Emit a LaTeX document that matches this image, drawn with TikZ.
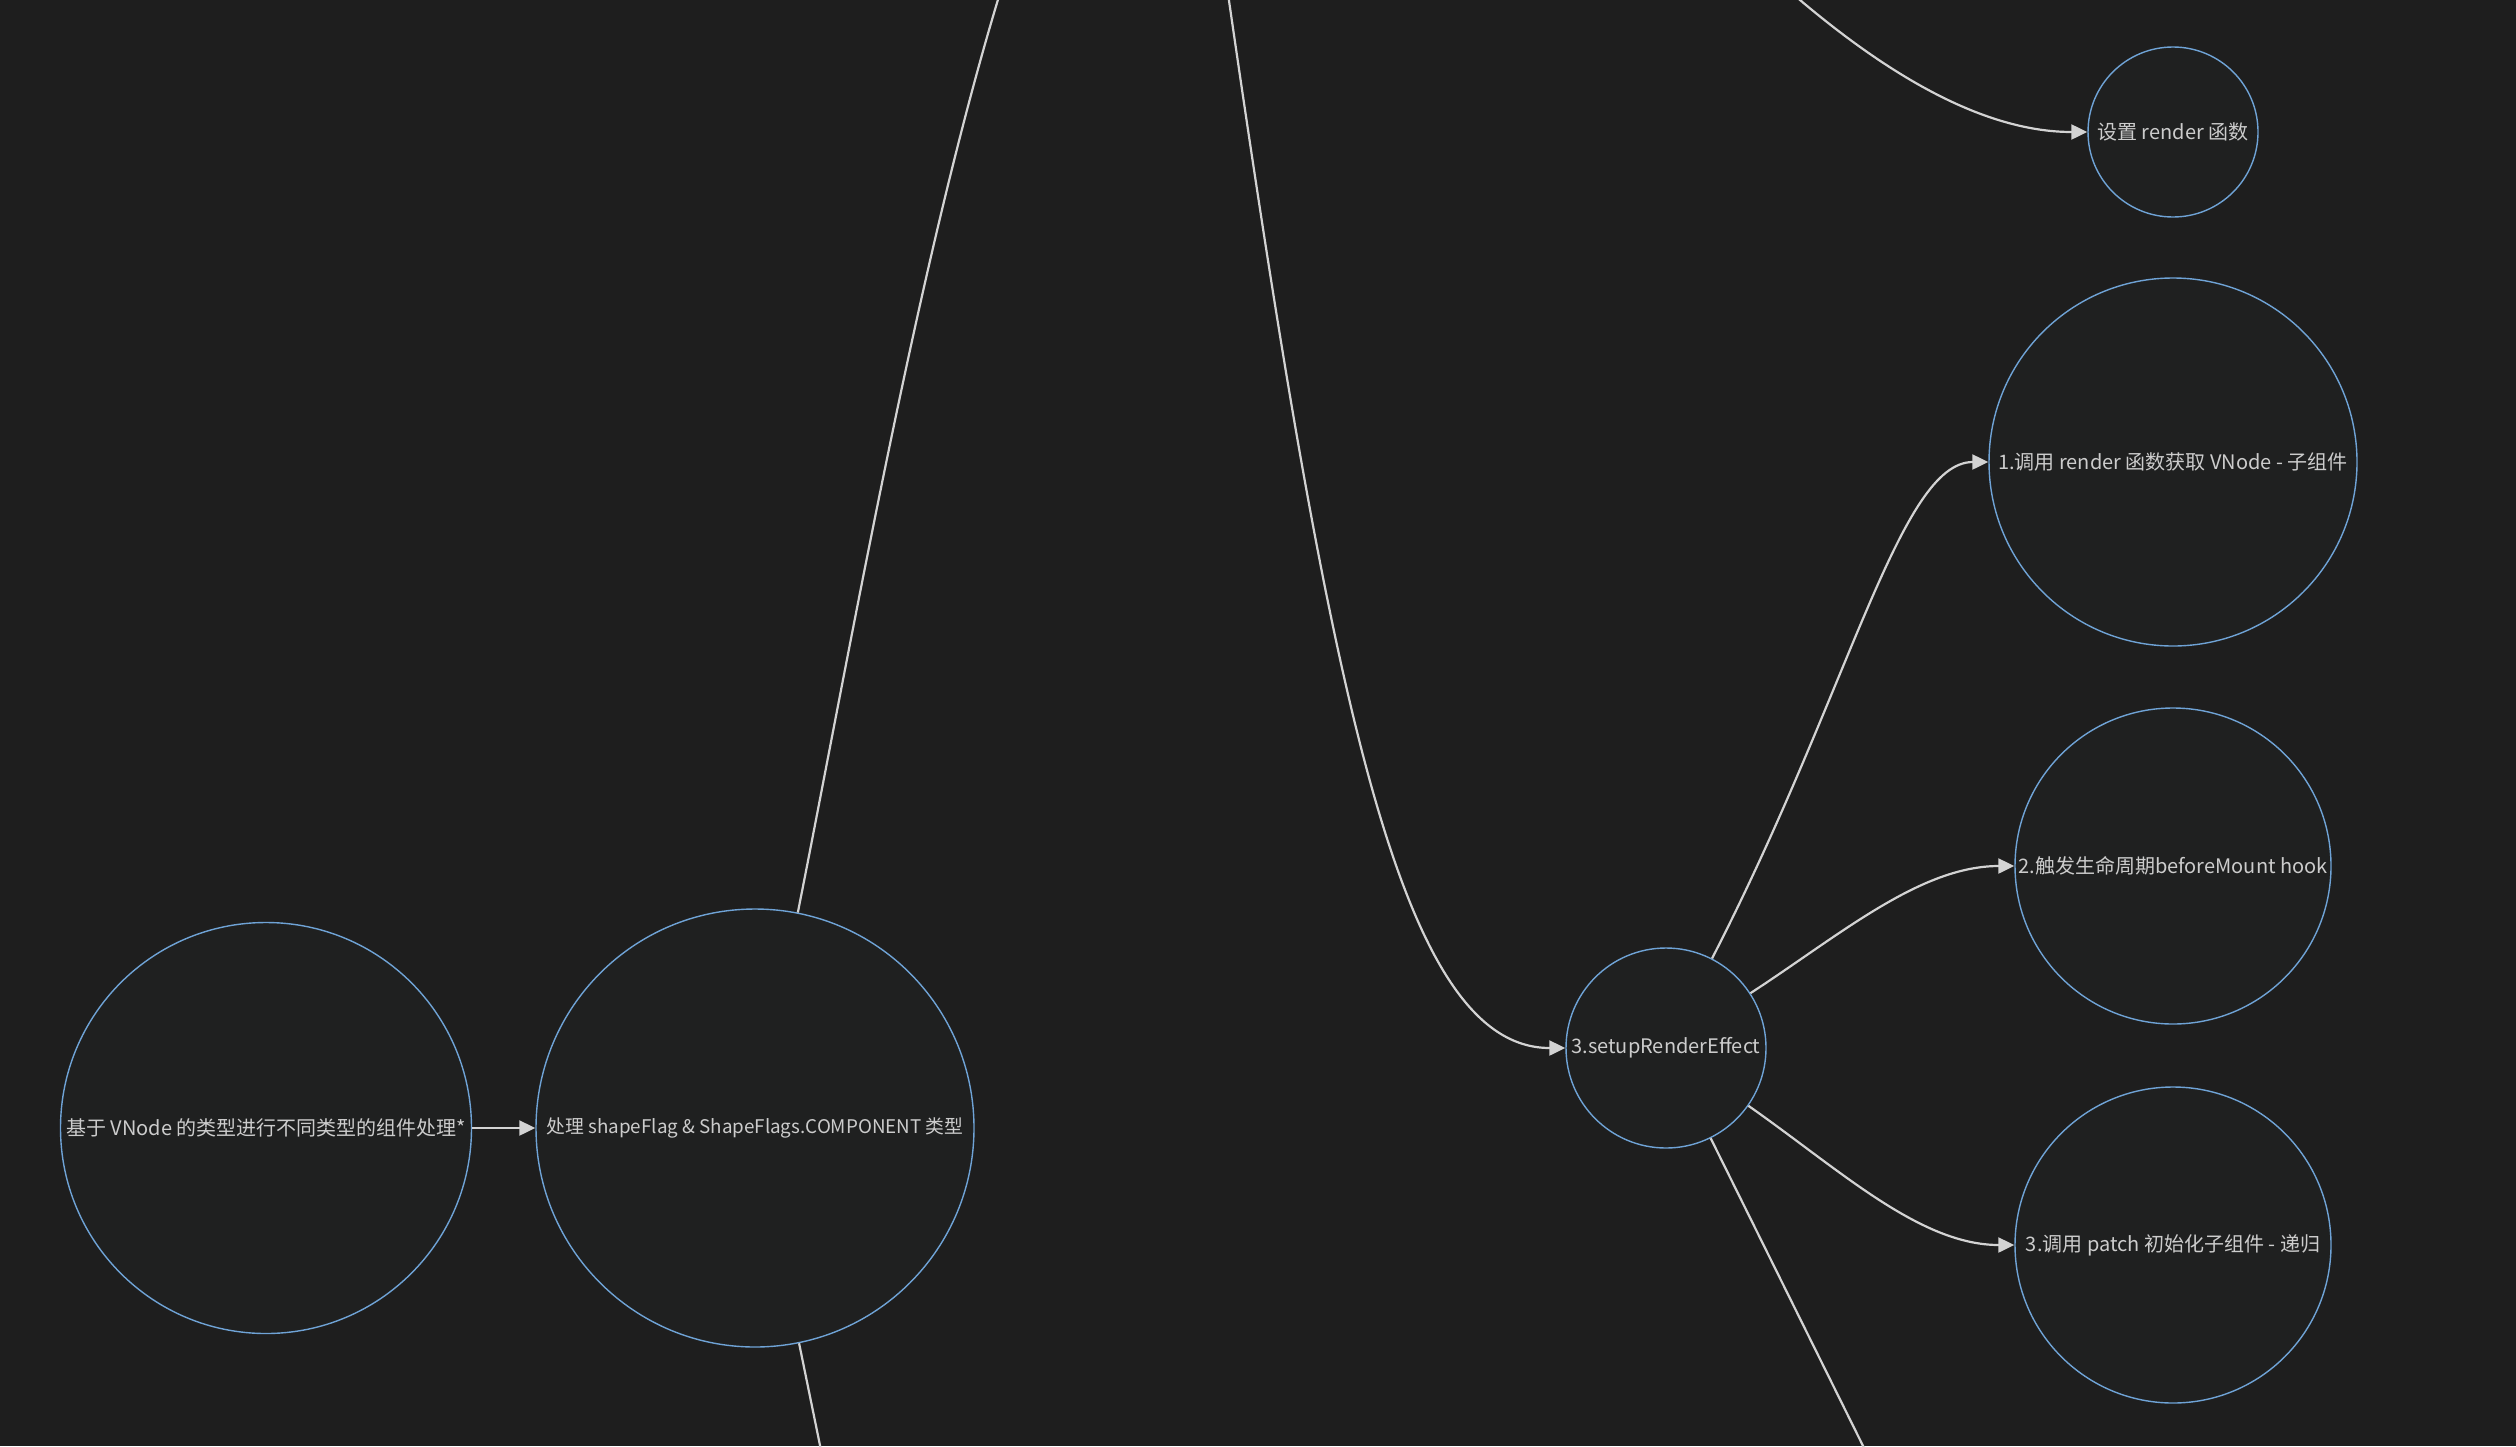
\documentclass[tikz,border=0pt]{standalone}
\usepackage{fontspec}
\setmainfont{Noto Sans CJK SC}
\usetikzlibrary{arrows.meta}
\definecolor{bgcol}{HTML}{1E1E1E}
\definecolor{nodefill}{HTML}{1F2020}
\definecolor{nodeline}{HTML}{6FA3D6}
\definecolor{linkcol}{HTML}{D3D3D3}
\definecolor{txtcol}{HTML}{CCCCCC}

\begin{document}
\begin{tikzpicture}[
x=0.5pt,
y=-0.5pt,
every node/.style={
circle,
draw=nodeline,
line width=0.7pt,
fill=nodefill,
text=txtcol,
inner sep=0pt,
font=\fontsize{10}{12}\selectfont
},
link/.style={
draw=linkcol,
line width=1.1pt
},
arr/.style={
link,
-{Triangle[length=8pt,width=7.5pt]}
}
]

\fill[bgcol] (0,0) rectangle (2516,1446);
\useasboundingbox (0,0) rectangle (2516,1446);
\clip (0,0) rectangle (2516,1446);

\node (V) at (266,1128) [minimum size=205.5pt]
{基于 VNode 的类型进行不同类型的组件处理*};

\node (S) at (755,1128) [minimum size=219pt, font=\fontsize{9.4}{12}\selectfont]
{处理 shapeFlag \& ShapeFlags.COMPONENT 类型};

\node (Se) at (1666,1048) [minimum size=100pt]
{3.setupRenderEffect};

\node (Rf) at (2173,132) [minimum size=85pt]
{设置 render 函数};

\node (R) at (2173,462) [minimum size=184pt]
{1.调用 render 函数获取 VNode - 子组件};

\node (H) at (2173,866) [minimum size=158pt]
{2.触发生命周期beforeMount hook};

\node (Pa) at (2173,1245) [minimum size=158pt]
{3.调用 patch 初始化子组件 - 递归};

\coordinate (up1) at (1004,-20);
\coordinate (up2) at (1226,-20);
\coordinate (up3) at (1786,-12);
\coordinate (down1) at (823,1460);
\coordinate (down2) at (1870,1460);

\draw[arr] (V) -- (S);
\draw[link] (S) .. controls (850,650) and (920,250) .. (up1);
\draw[link] (S) -- (down1);
\draw[arr] (up2) .. controls (1330,700) and (1400,1048) .. (Se);
\draw[arr] (up3) .. controls (1880,70) and (1980,132) .. (Rf);
\draw[arr] (Se) .. controls (1850,690) and (1900,462) .. (R);
\draw[arr] (Se) .. controls (1840,935) and (1920,866) .. (H);
\draw[arr] (Se) .. controls (1840,1170) and (1920,1245) .. (Pa);
\draw[link] (Se) -- (down2);

\end{tikzpicture}
\end{document}
